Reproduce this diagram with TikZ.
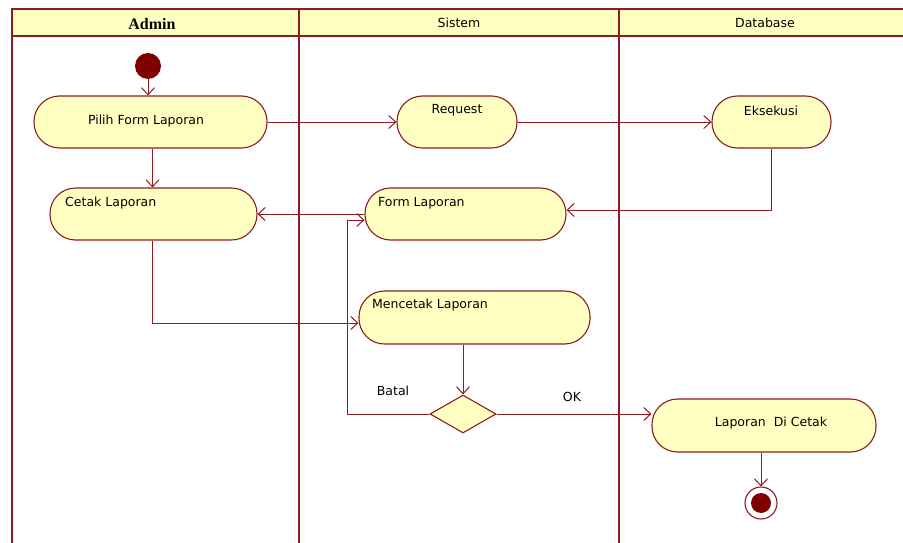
\documentclass[tikz,border=0pt]{standalone}
\usepackage{fontspec}
\setmainfont{DejaVu Sans}
\newfontfamily\hdrserif{Liberation Serif}
\usetikzlibrary{arrows.meta,shapes.geometric}
\definecolor{umlred}{RGB}{140,28,34}
\definecolor{umlfill}{RGB}{255,255,194}
\definecolor{umldark}{RGB}{128,0,0}
\tikzset{
  act/.style={draw=umlred, fill=umlfill, line width=1.1pt, rounded corners=25.5pt, inner sep=0pt},
  txt/.style={font=\fontsize{12.5}{14}\selectfont, inner sep=0pt, text=black},
  flow/.style={draw=umlred, line width=1pt, -{Straight Barb[length=7pt,width=13pt,line width=1pt]}},
  lane/.style={draw=umlred, line width=1.8pt},
}
\begin{document}
\begin{tikzpicture}[x=1pt,y=-1pt]
\useasboundingbox (0,0) rectangle (903,543);
\clip (0,0) rectangle (903,543);
% swimlanes
\fill[umlfill] (12,9) rectangle (905,36);
\draw[umlred, line width=1.4pt] (905,9) -- (12,9) -- (12,545);
\draw[umlred, line width=1.2pt] (12,36) -- (905,36);
\draw[lane] (299,9) -- (299,545);
\draw[lane] (619,9) -- (619,545);
\node[font=\hdrserif\bfseries\fontsize{16}{18}\selectfont, inner sep=0pt] (hAdmin) at (152,24) {Admin};
\node[txt] (hSistem) at (459,23) {Sistem};
\node[txt] (hDb) at (765,23) {Database};
% nodes
\node[circle, fill=umldark, minimum size=26pt, inner sep=0pt] (start) at (148,66) {};
\node[act, minimum width=233pt, minimum height=52pt] (pilih) at (150.5,122) {};
\node[txt] at (146,121) {Pilih Form Laporan};
\node[act, minimum width=120pt, minimum height=52pt] (req) at (457,122) {};
\node[txt] at (457,110) {Request};
\node[act, minimum width=119pt, minimum height=52pt] (eks) at (771.5,122) {};
\node[txt] at (771,111) {Eksekusi};
\node[act, minimum width=207pt, minimum height=52pt] (cetak) at (153.5,214) {};
\node[txt, anchor=west] at (65,203) {Cetak Laporan};
\node[act, minimum width=201pt, minimum height=52pt] (form) at (465.5,214) {};
\node[txt, anchor=west] at (378,203) {Form Laporan};
\node[act, minimum width=231pt, minimum height=53pt] (mencetak) at (474.5,317.5) {};
\node[txt, anchor=west] at (372,305) {Mencetak Laporan};
\node[diamond, draw=umlred, fill=umlfill, line width=1.1pt, minimum width=66pt, minimum height=38pt, inner sep=0pt, aspect=1.7] (dec) at (463,414) {};
\node[act, minimum width=224pt, minimum height=53pt] (hasil) at (764,425.5) {};
\node[txt] at (771,423) {Laporan\ \ Di Cetak};
\node[circle, draw=umlred, fill=white, line width=1.1pt, minimum size=32pt, inner sep=0pt] (end) at (761,503) {};
\node[circle, fill=umldark, minimum size=20pt, inner sep=0pt] (endin) at (761,503) {};
\node[txt] (batal) at (393,391) {Batal};
\node[txt] (ok) at (572,397) {OK};
% flows
\draw[flow] (start.south) -- (start.south |- pilih.north);
\draw[flow] (pilih.east) -- (req.west);
\draw[flow] (req.east) -- (eks.west);
\draw[flow] ([xshift=2pt]pilih.south) -- ([xshift=2pt]pilih.south |- cetak.north);
\draw[flow] (eks.south) |- ([yshift=4pt]form.east);
\draw[flow] (form.west) -- (cetak.east);
\draw[flow] ([xshift=-1.5pt]cetak.south) |- ([yshift=-5.5pt]mencetak.west);
\draw[flow] (dec.west) -- (347,414) |- ([yshift=-6pt]form.west);
\draw[flow] (dec.north |- mencetak.south) -- (dec.north);
\draw[flow] (end.north |- hasil.south) -- (end.north);
\draw[flow] (dec.east) -- (hasil.west |- dec.east);
\end{tikzpicture}
\end{document}
